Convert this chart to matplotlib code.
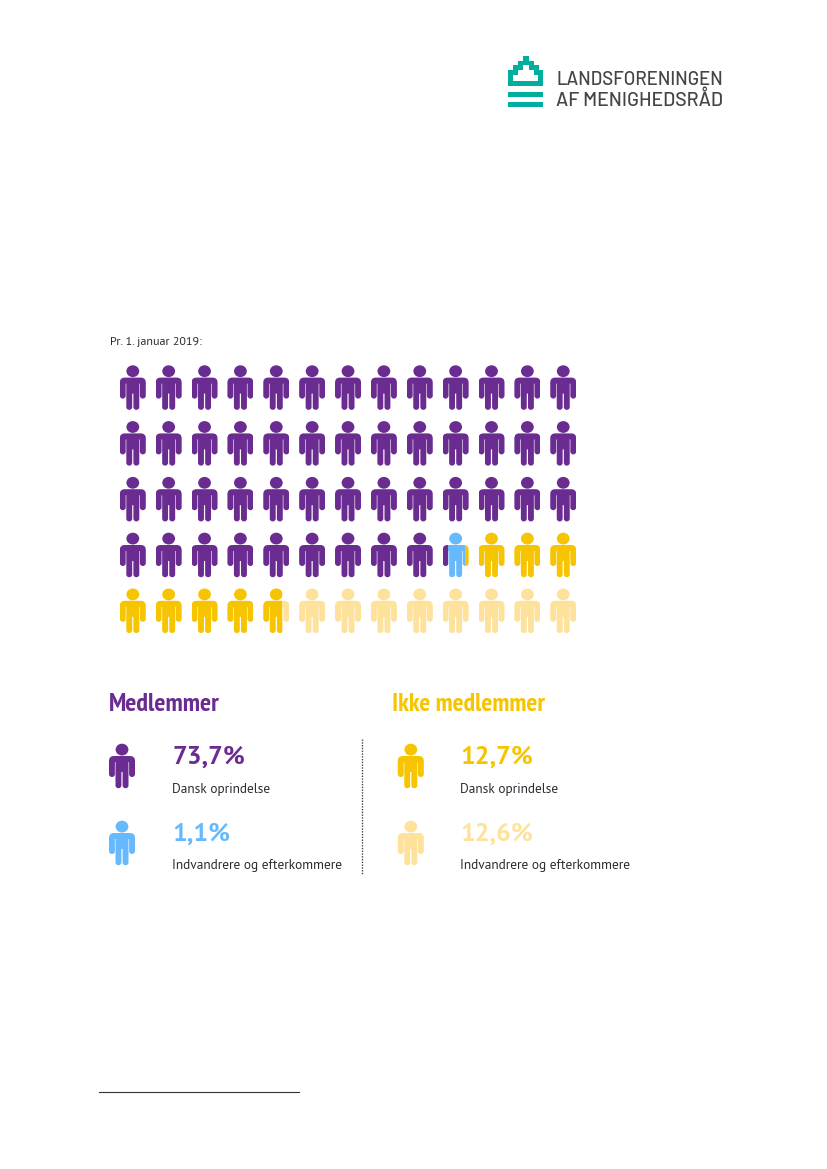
import logging
import matplotlib
matplotlib.use("Agg")
import matplotlib.pyplot as plt
import numpy as np
from matplotlib.path import Path
from matplotlib.patches import PathPatch, Rectangle, Polygon
from matplotlib.transforms import Affine2D

logging.getLogger("matplotlib.font_manager").setLevel(logging.ERROR)

# ---------- data ----------
categories = ["Dansk oprindelse", "Indvandrere og efterkommere",
              "Dansk oprindelse", "Indvandrere og efterkommere"]
groups = ["Medlemmer", "Ikke medlemmer"]
percent_labels = ["73,7%", "1,1%", "12,7%", "12,6%"]
# number of pictogram figures filled per category
figure_counts = [48.2, 0.65, 7.87, 8.28]
colors = ["#6A2C91", "#66B9FF", "#F6C400", "#FEE29B"]
subtitle = "Pr. 1. januar 2019:"
logo_lines = ["LANDSFORENINGEN", "AF MENIGHEDSRÅD"]

n_cols, n_rows = 13, 5
TEAL = "#00AE9D"
DARK = "#2B2B33"
BODY_FONT = ["PT Sans", "Open Sans", "DejaVu Sans"]
HEAD_FONT = ["PT Sans Narrow", "Roboto Condensed", "DejaVu Sans"]
LOGO_FONT = ["Barlow", "Roboto", "DejaVu Sans"]

fig = plt.figure(figsize=(8.27, 11.69), dpi=100, facecolor="white")
ax = fig.add_axes([0, 0, 1, 1])
ax.set_xlim(0, 827)
ax.set_ylim(1169, 0)
ax.axis("off")


def rounded(verts):
    """Closed path from (x, y, corner radius) vertices."""
    pts = np.array([v[:2] for v in verts], float)
    rad = [v[2] for v in verts]
    n = len(pts)
    out, codes = [], []
    for i in range(n):
        p, a, b = pts[i], pts[i - 1], pts[(i + 1) % n]
        d1 = (a - p) / np.linalg.norm(a - p)
        d2 = (b - p) / np.linalg.norm(b - p)
        s, e = p + d1 * rad[i], p + d2 * rad[i]
        out.append(s)
        codes.append(Path.MOVETO if i == 0 else Path.LINETO)
        if rad[i] > 0:
            out += [p, e]
            codes += [Path.CURVE3, Path.CURVE3]
    out.append(out[0])
    codes.append(Path.CLOSEPOLY)
    return Path(out, codes)


PERSON_W = 26.0
_body = rounded([(-13, 12.0, 5), (13, 12.0, 5), (13, 33, 3), (7.1, 33, 2.9),
                 (7.1, 18, 0.2), (6.5, 18, 0.2), (6.5, 44.2, 2.8), (0.6, 44.2, 2.8),
                 (0.6, 28, 0.2), (-0.6, 28, 0.2), (-0.6, 44.2, 2.8), (-6.5, 44.2, 2.8),
                 (-6.5, 18, 0.2), (-7.1, 18, 0.2), (-7.1, 33, 2.9), (-13, 33, 3)])
_head = Path.unit_circle().transformed(Affine2D().scale(6.4, 5.9).translate(0, 5.6))
PERSON = Path.make_compound_path(_body, _head)


def person(cx, top, color, clip=None):
    p = PathPatch(PERSON, facecolor=color, edgecolor="none",
                  transform=Affine2D().translate(cx, top) + ax.transData)
    ax.add_patch(p)
    if clip is not None:
        r = Rectangle((clip[0], top - 2), clip[1] - clip[0], 50, transform=ax.transData)
        p.set_clip_path(r)


# ---------- pictogram grid ----------
col_x = 132.8 + 35.87 * np.arange(n_cols)
row_y = 365.6 + 55.8 * np.arange(n_rows)
edges = np.concatenate([[0], np.cumsum(figure_counts)])
for idx in range(n_cols * n_rows):
    r, c = divmod(idx, n_cols)
    x0 = col_x[c] - PERSON_W / 2
    for k, col in enumerate(colors):
        a, b = max(edges[k], idx), min(edges[k + 1], idx + 1)
        if b > a:
            person(col_x[c], row_y[r], col,
                   clip=(x0 + (a - idx) * PERSON_W, x0 + (b - idx) * PERSON_W))

# ---------- subtitle ----------
ax.text(110.5, 345, subtitle, fontsize=8.65, family=BODY_FONT, color=DARK, va="baseline")

# ---------- legend ----------
ax.text(109, 711, groups[0], fontsize=18.8, family=HEAD_FONT, weight="bold",
        color=colors[0], va="baseline")
ax.text(392, 711, groups[1], fontsize=18.5, family=HEAD_FONT, weight="bold",
        color=colors[2], va="baseline")

icon_x = [122, 122, 410.8, 410.8]
text_x = [172, 172, 460.5, 460.5]
icon_top = [744, 821, 744, 821]
for i in range(4):
    person(icon_x[i], icon_top[i], colors[i])
    ax.text(text_x[i], icon_top[i] + 19.5, percent_labels[i], fontsize=18.7, family=BODY_FONT,
            weight="bold", color=colors[i], va="baseline")
    ax.text(text_x[i], icon_top[i] + 48.5, categories[i], fontsize=9.6, family=BODY_FONT,
            color=DARK, va="baseline")

ax.plot([361.8, 361.8], [739, 874], color="#444444", lw=1.0, ls=(0, (1, 1)))

# ---------- footnote rule ----------
ax.plot([99, 299], [1092, 1092], color="#333333", lw=0.8)

# ---------- logo ----------
ax.add_patch(Polygon([(507.7, 85.7), (507.7, 70), (513.3, 70), (513.3, 65), (518.3, 65), (518.3, 60.7),
                      (523, 60.7), (523, 56), (529, 56), (529, 60.7), (534.3, 60.7), (534.3, 65),
                      (539, 65), (539, 70), (543.3, 70), (543.3, 85.7)],
                     closed=True, fc=TEAL, ec="none"))
ax.add_patch(Polygon([(513.3, 80.7), (513.3, 75), (518.3, 75), (518.3, 70), (523, 70), (523, 65),
                      (529, 65), (529, 70), (534, 70), (534, 75), (538.3, 75), (538.3, 80.7)],
                     closed=True, fc="white", ec="none"))
for y in (91.7, 101.7):
    ax.add_patch(Rectangle((507.7, y), 35.6, 5, fc=TEAL, ec="none"))
ax.text(556, 85, logo_lines[0], fontsize=13.4, family=LOGO_FONT, weight=500, color="#454545", va="baseline")
ax.text(556, 106, logo_lines[1], fontsize=14, family=LOGO_FONT, weight=500, color="#454545", va="baseline")

fig.savefig("out.png", dpi=100, facecolor="white")
